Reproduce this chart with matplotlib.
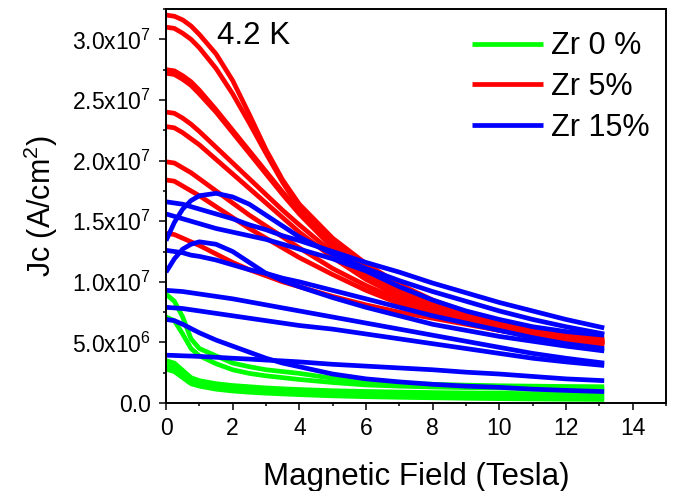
import numpy as np
import matplotlib
matplotlib.use("Agg")
import matplotlib.pyplot as plt
from matplotlib.ticker import MultipleLocator, FuncFormatter

plt.rcParams['font.family'] = ['Liberation Sans', 'DejaVu Sans']
plt.rcParams['mathtext.fontset'] = 'custom'
plt.rcParams['mathtext.rm'] = 'Liberation Sans'
plt.rcParams['mathtext.default'] = 'regular'

# magnetic field grid (Tesla), shared by all curves
field_T = [0, 0.25, 0.5, 0.75, 1, 1.5, 2, 2.5, 3, 3.5, 4, 5, 6, 7, 8, 9, 10, 11, 12, 13.15]

# Jc values in units of 1e6 A/cm^2
zr0_curves = [
    [9.0, 8.4, 7.1, 5.3, 4.5, 3.9, 3.3, 3.0, 2.75, 2.6, 2.45, 2.05, 1.8, 1.65, 1.55, 1.48, 1.43, 1.4, 1.37, 1.35],
    [7.1, 6.8, 5.7, 4.5, 3.9, 3.25, 2.75, 2.45, 2.25, 2.1, 1.95, 1.7, 1.5, 1.4, 1.33, 1.28, 1.24, 1.2, 1.17, 1.15],
    [3.5, 3.3, 2.7, 2.1, 1.85, 1.6, 1.45, 1.35, 1.25, 1.18, 1.12, 1.02, 0.96, 0.91, 0.87, 0.84, 0.81, 0.78, 0.76, 0.74],
    [3.1, 2.95, 2.4, 1.85, 1.6, 1.35, 1.2, 1.1, 1.02, 0.96, 0.9, 0.8, 0.73, 0.68, 0.64, 0.6, 0.57, 0.54, 0.52, 0.5],
    [2.8, 2.6, 2.1, 1.6, 1.4, 1.15, 1.0, 0.9, 0.82, 0.76, 0.7, 0.6, 0.53, 0.48, 0.44, 0.4, 0.37, 0.34, 0.32, 0.3],
]

zr5_curves = [
    [32.0, 31.9, 31.6, 31.1, 30.4, 28.8, 26.6, 23.8, 20.9, 18.4, 16.4, 13.6, 11.5, 9.8, 8.5, 7.5, 6.7, 6.1, 5.6, 5.3],
    [31.0, 30.9, 30.5, 30.0, 29.3, 27.6, 25.5, 23.1, 20.6, 18.2, 16.1, 13.3, 11.2, 9.6, 8.3, 7.3, 6.5, 5.9, 5.5, 5.2],
    [27.5, 27.4, 27.0, 26.5, 25.8, 24.2, 22.5, 20.8, 19.1, 17.4, 15.8, 13.0, 10.9, 9.3, 8.1, 7.2, 6.4, 5.8, 5.4, 5.1],
    [27.2, 27.1, 26.7, 26.2, 25.5, 24.0, 22.3, 20.6, 18.9, 17.2, 15.6, 12.8, 10.7, 9.2, 8.0, 7.1, 6.3, 5.7, 5.3, 5.0],
    [24.0, 23.9, 23.5, 23.0, 22.4, 21.1, 19.8, 18.5, 17.2, 15.9, 14.7, 12.4, 10.5, 9.0, 7.8, 6.9, 6.2, 5.7, 5.3, 5.0],
    [22.8, 22.7, 22.3, 21.8, 21.3, 20.1, 18.9, 17.7, 16.5, 15.3, 14.1, 12.0, 10.2, 8.8, 7.7, 6.8, 6.1, 5.6, 5.2, 4.9],
    [19.9, 19.8, 19.4, 19.0, 18.5, 17.5, 16.5, 15.5, 14.6, 13.7, 12.8, 11.1, 9.7, 8.5, 7.5, 6.7, 6.1, 5.6, 5.2, 4.9],
    [18.4, 18.3, 17.9, 17.5, 17.1, 16.2, 15.3, 14.4, 13.6, 12.8, 12.0, 10.6, 9.3, 8.2, 7.3, 6.6, 6.0, 5.5, 5.1, 4.8],
    [14.0, 13.9, 13.6, 13.3, 13.0, 12.3, 11.6, 11.0, 10.5, 10.0, 9.6, 8.8, 8.1, 7.5, 7.0, 6.5, 6.0, 5.6, 5.2, 4.8],
]

zr15_curves = [
    [16.6, 16.5, 16.4, 16.2, 16.0, 15.6, 15.2, 14.7, 14.3, 13.8, 13.4, 12.5, 11.6, 10.8, 9.9, 9.1, 8.3, 7.6, 6.9, 6.2],
    [13.4, 14.9, 16.0, 16.7, 17.1, 17.3, 17.0, 16.4, 15.5, 14.6, 13.7, 12.3, 11.1, 10.1, 9.2, 8.4, 7.6, 6.9, 6.3, 5.7],
    [15.6, 15.4, 15.2, 15.0, 14.8, 14.4, 14.1, 13.8, 13.5, 13.1, 12.7, 11.9, 10.9, 9.6, 8.5, 7.6, 6.9, 6.3, 5.9, 5.6],
    [10.8, 11.9, 12.7, 13.1, 13.3, 13.1, 12.5, 11.6, 10.7, 10.1, 9.6, 8.7, 7.9, 7.2, 6.5, 6.0, 5.5, 5.1, 4.7, 4.3],
    [12.6, 12.5, 12.4, 12.2, 12.1, 11.8, 11.4, 11.0, 10.7, 10.3, 10.0, 9.3, 8.6, 7.9, 7.2, 6.6, 6.0, 5.4, 4.9, 4.5],
    [9.3, 9.25, 9.2, 9.1, 9.0, 8.8, 8.6, 8.35, 8.1, 7.85, 7.6, 7.1, 6.6, 6.1, 5.6, 5.1, 4.6, 4.1, 3.7, 3.3],
    [7.9, 7.85, 7.8, 7.7, 7.6, 7.4, 7.2, 7.0, 6.8, 6.6, 6.4, 6.1, 5.7, 5.3, 4.9, 4.5, 4.1, 3.7, 3.4, 3.1],
    [6.9, 6.8, 6.5, 6.15, 5.8, 5.2, 4.7, 4.2, 3.7, 3.3, 3.0, 2.4, 2.0, 1.75, 1.55, 1.4, 1.3, 1.15, 1.05, 0.95],
    [3.95, 3.93, 3.9, 3.88, 3.85, 3.78, 3.7, 3.63, 3.55, 3.48, 3.4, 3.2, 3.05, 2.9, 2.75, 2.55, 2.4, 2.2, 2.0, 1.85],
]

groups = [
    ('Zr 0 %', '#00ff00', zr0_curves),
    ('Zr 5%', '#ff0000', zr5_curves),
    ('Zr 15%', '#0000ff', zr15_curves),
]

fig = plt.figure(figsize=(6.76, 4.91), dpi=100)
ax = fig.add_axes([0.2456, 0.179, 0.7394, 0.8027])

B = np.array(field_T)
for label, color, curves in groups:
    for i, jc in enumerate(curves):
        ax.plot(B, np.array(jc) * 1e6, color=color, lw=3.4,
                solid_capstyle='butt', solid_joinstyle='round',
                label=label if i == 0 else None)

ax.set_xlim(0, 15)
ax.set_ylim(0, 3.25e7)
ax.xaxis.set_major_locator(MultipleLocator(2))
ax.xaxis.set_minor_locator(MultipleLocator(1))
ax.yaxis.set_major_locator(MultipleLocator(5e6))
ax.yaxis.set_minor_locator(MultipleLocator(2.5e6))


def sci_label(v, pos):
    if v < 1:
        return '0.0' if abs(v) < 1 else ''
    e = int(np.floor(np.log10(v)))
    return rf'{v / 10**e:.1f}x10$^{{{e}}}$'


ax.yaxis.set_major_formatter(FuncFormatter(sci_label))
ax.tick_params(which='both', direction='out', width=1.1, labelsize=16.5)
ax.tick_params(which='major', length=4.7)
ax.tick_params(which='minor', length=2.4)
ax.tick_params(axis='x', pad=5)
ax.tick_params(axis='y', pad=6)
for s in ax.spines.values():
    s.set_linewidth(1.4)

ax.set_xlabel('Magnetic Field (Tesla)', fontsize=22.5, labelpad=16)
ax.set_ylabel('Jc (A/cm$^{2}$)', fontsize=22, labelpad=9)

ax.text(1.54, 2.96e7, '4.2 K', fontsize=22.5, ha='left', va='baseline')

ax.legend(loc='upper left', bbox_to_anchor=(0.613, 0.943), frameon=False,
          fontsize=22, handlelength=2.3, handletextpad=0.28, labelspacing=0.35,
          borderpad=0, borderaxespad=0)

fig.savefig('out.png', dpi=100)
